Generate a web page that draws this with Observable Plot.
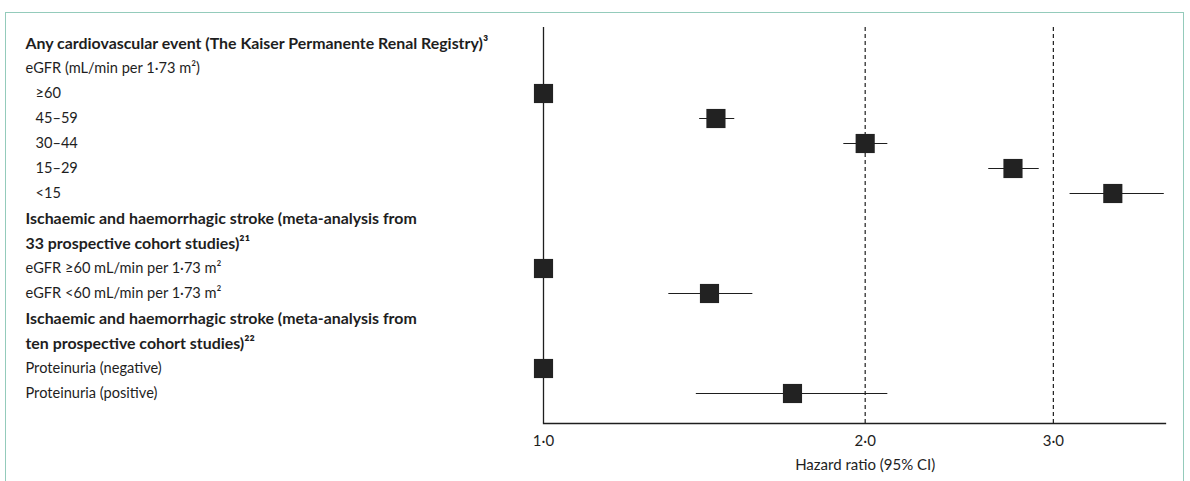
<!DOCTYPE html>
<html>
<head>
<meta charset="utf-8">
<script src="https://cdn.jsdelivr.net/npm/d3@7"></script>
<script src="https://cdn.jsdelivr.net/npm/@observablehq/plot@0.6"></script>
<style>
  html, body { margin: 0; padding: 0; background: #fff; overflow: hidden; }
  #wrap { position: relative; width: 1190px; height: 481px; }
  #box { position: absolute; left: 5px; top: 12px; width: 1177px; height: 480px;
         border: 1.5px solid #94cbbb; border-bottom: none; }
  #chart { position: absolute; left: 0; top: 0; }
</style>
</head>
<body>
<div id="wrap"><div id="box"></div><div id="chart"></div></div>
<script>
// Row labels, top to bottom (two-line group headings use one row per line)
const rowLabels = [
  "Any cardiovascular event (The Kaiser Permanente Renal Registry)³",
  "eGFR (mL/min per 1·73 m²)",
  "≥60",
  "45–59",
  "30–44",
  "15–29",
  "<15",
  "Ischaemic and haemorrhagic stroke (meta-analysis from",
  "33 prospective cohort studies)²¹",
  "eGFR ≥60 mL/min per 1·73 m²",
  "eGFR <60 mL/min per 1·73 m²",
  "Ischaemic and haemorrhagic stroke (meta-analysis from ",
  "ten prospective cohort studies)²²",
  "Proteinuria (negative)",
  "Proteinuria (positive)"
];
const headingRows = [0, 7, 8, 11, 12];
const indentedRows = [2, 3, 4, 5, 6];

// Hazard ratios with 95% CI (reference groups have no interval)
const estimateRows = [2, 3, 4, 5, 6, 9, 10, 13, 14];
const hazardRatio = [1.0, 1.45, 2.0, 2.75, 3.41, 1.0, 1.43, 1.0, 1.71];
const ciLow  = [null, 1.40, 1.91, 2.61, 3.11, null, 1.31, null, 1.39];
const ciHigh = [null, 1.51, 2.10, 2.91, 3.81, null, 1.57, null, 2.10];

const xTicks = [1, 2, 3];
const dashedAt = [2, 3];
const xTitle = "Hazard ratio (95% CI)";

const rows = rowLabels.map((label, i) => ({
  label,
  heading: headingRows.includes(i),
  indent: indentedRows.includes(i)
}));
const estimates = estimateRows.map((r, i) => ({
  label: rowLabels[r], hr: hazardRatio[i], lo: ciLow[i], hi: ciHigh[i]
}));
const intervals = estimates.filter(d => d.lo != null);

const font = "Lato, 'Open Sans', sans-serif";
const ink = "#1e1e1e";

const chart = Plot.plot({
  width: 1190,
  height: 481,
  marginLeft: 543,
  marginRight: 25,
  marginTop: 27,
  marginBottom: 58,
  style: { fontFamily: font, fontSize: "15px", color: ink, background: "transparent" },
  x: { type: "log", domain: [1, 3.82] },
  y: { type: "point", domain: rowLabels, range: [42, 393], padding: 0, axis: null },
  marks: [
    Plot.ruleX([1], { stroke: ink, strokeWidth: 1.3 }),
    Plot.ruleX(dashedAt, { stroke: ink, strokeWidth: 1.2, strokeDasharray: "4,3" }),
    Plot.frame({ anchor: "bottom", stroke: ink, strokeWidth: 1.3 }),
    Plot.axisX({
      ticks: xTicks, tickSize: 0, tickPadding: 12,
      tickFormat: d => d.toFixed(1).replace(".", "·"),
      fill: ink, fontSize: 15, label: null
    }),
    // axis title, centred under the middle tick
    Plot.text([xTitle], {
      x: xTicks[1], text: d => d, frameAnchor: "bottom", lineAnchor: "middle",
      dy: 42, fill: ink, fontSize: 15
    }),
    Plot.ruleY(intervals, { y: "label", x1: "lo", x2: "hi", stroke: ink, strokeWidth: 1.2 }),
    Plot.dot(estimates, { x: "hr", y: "label", symbol: "square", r: 10.8, fill: "#222", stroke: "none" }),
    // plain row labels in the left margin (subgroups indented)
    Plot.text(rows.filter(d => !d.heading && !d.indent), {
      y: "label", text: "label", frameAnchor: "left", textAnchor: "start",
      dx: -518, fill: ink, fontSize: 14.6
    }),
    Plot.text(rows.filter(d => d.indent), {
      y: "label", text: "label", frameAnchor: "left", textAnchor: "start",
      dx: -508, fill: ink, fontSize: 14.6
    }),
    // group headings
    Plot.text(rows.filter(d => d.heading), {
      y: "label", text: "label", frameAnchor: "left", textAnchor: "start",
      dx: -518, fill: ink, fontSize: 15.9, fontWeight: "bold"
    })
  ]
});

document.getElementById("chart").appendChild(chart);
</script>
</body>
</html>
